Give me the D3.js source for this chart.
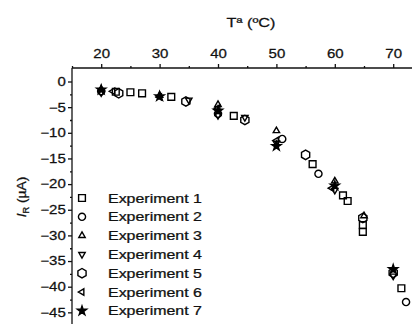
<!DOCTYPE html>
<html>
<head>
<meta charset="utf-8">
<script src="https://cdn.jsdelivr.net/npm/d3@7"></script>
<style>
  html, body { margin: 0; padding: 0; background: #fff; }
  svg { display: block; }
  text { font-family: "Liberation Sans", Arial, sans-serif; fill: #111; stroke: #111; stroke-width: 0.25; }
</style>
</head>
<body>
<svg id="chart" width="412" height="324"></svg>
<script>
// Temperature (°C) and reverse current (µA) per experiment
const exp1T = [22.5, 25, 27, 32, 42.7, 56.2, 61.4, 62.2, 64.8, 64.8, 71.4];
const exp1I = [-2.0, -2.1, -2.3, -3.0, -6.7, -16.1, -22.2, -23.3, -28.0, -29.3, -40.3];
const exp2T = [20, 40, 51, 57.2, 72.2];
const exp2I = [-1.9, -6.3, -11.2, -18.0, -43.0];
const exp3T = [20, 30, 40, 50, 60, 65];
const exp3I = [-1.5, -2.7, -4.5, -9.6, -19.4, -26.2];
const exp4T = [20, 35, 40, 44.6, 50, 60, 70];
const exp4I = [-2.2, -3.6, -6.6, -7.0, -12.0, -21.2, -37.9];
const exp5T = [23, 34.5, 44.6, 55, 64.8, 70];
const exp5I = [-2.3, -3.9, -7.5, -14.3, -26.6, -37.3];
const exp6T = [22, 30, 40, 50, 59.5];
const exp6I = [-1.9, -3.0, -5.2, -11.5, -20.8];
const exp7T = [20, 30, 40, 50, 60, 70];
const exp7I = [-1.6, -2.9, -5.7, -12.6, -20.3, -36.6];

const seriesNames = ["Experiment 1", "Experiment 2", "Experiment 3", "Experiment 4",
                     "Experiment 5", "Experiment 6", "Experiment 7"];
const xTickValues = [20, 30, 40, 50, 60, 70];
const yTickValues = [0, -5, -10, -15, -20, -25, -30, -35, -40, -45];

// marker shapes
const hexagon = {
  draw(ctx, size) {
    const r = Math.sqrt(size / 2.6);
    for (let i = 0; i < 6; i++) {
      const a = Math.PI / 6 + i * Math.PI / 3;
      const px = r * Math.cos(a), py = r * Math.sin(a);
      if (i === 0) ctx.moveTo(px, py); else ctx.lineTo(px, py);
    }
    ctx.closePath();
  }
};
const triangleDir = (angle) => ({
  draw(ctx, size) {
    const r = Math.sqrt(size / 1.3) * 0.62;
    for (let i = 0; i < 3; i++) {
      const a = angle + i * 2 * Math.PI / 3;
      const px = r * Math.cos(a), py = r * Math.sin(a);
      if (i === 0) ctx.moveTo(px, py); else ctx.lineTo(px, py);
    }
    ctx.closePath();
  }
});
const roundCircle = {
  draw(ctx, size) {
    const r = Math.sqrt(size / Math.PI);
    ctx.moveTo(r, 0);
    ctx.arc(0, 0, r, 0, 2 * Math.PI);
  }
};

const series = [
  { name: seriesNames[0], T: exp1T, I: exp1I, type: d3.symbolSquare, size: 46, fill: "none" },
  { name: seriesNames[1], T: exp2T, I: exp2I, type: roundCircle, size: 40, fill: "none" },
  { name: seriesNames[2], T: exp3T, I: exp3I, type: triangleDir(-Math.PI / 2), size: 46, fill: "none" },
  { name: seriesNames[3], T: exp4T, I: exp4I, type: triangleDir(Math.PI / 2), size: 46, fill: "none" },
  { name: seriesNames[4], T: exp5T, I: exp5I, type: hexagon, size: 58, fill: "none" },
  { name: seriesNames[5], T: exp6T, I: exp6I, type: triangleDir(Math.PI), size: 46, fill: "none" },
  { name: seriesNames[6], T: exp7T, I: exp7I, type: d3.symbolStar, size: 26, fill: "#000" }
];

const svg = d3.select("#chart");
const plotLeft = 72, plotTop = 68;
const stretch = "scale(1.25,1)";

const x = d3.scaleLinear().domain([15, 75]).range([plotLeft, plotLeft + 60 * 5.84]);
const y = d3.scaleLinear().domain([0, -45]).range([81.5, 81.5 + 45 * 5.13]);

// top axis
const xAxis = d3.axisTop(x).tickValues(xTickValues).tickSize(4).tickPadding(6)
  .tickFormat(d3.format("d"));
const gx = svg.append("g").attr("transform", `translate(0,${plotTop})`).call(xAxis);
gx.select(".domain").attr("d", `M${plotLeft},0H420`);
svg.append("g").attr("transform", `translate(0,${plotTop})`)
  .call(d3.axisTop(x).tickValues([15, 25, 35, 45, 55, 65, 75]).tickSize(2).tickFormat(""))
  .select(".domain").remove();

// left axis
const yAxis = d3.axisLeft(y).tickValues(yTickValues).tickSize(4).tickPadding(1)
  .tickFormat(d3.format("d"));
const gy = svg.append("g").attr("transform", `translate(${plotLeft},0)`).call(yAxis);
gy.select(".domain").attr("d", `M0,${plotTop}V330`);
const minorY = d3.range(0, -48, -2.5).filter(v => v % 5 !== 0);
svg.append("g").attr("transform", `translate(${plotLeft},0)`)
  .call(d3.axisLeft(y).tickValues(minorY).tickSize(2).tickFormat(""))
  .select(".domain").remove();

svg.selectAll(".tick text")
  .attr("font-size", 12)
  .attr("fill", "#111")
  .attr("transform", stretch)
  .style("font-family", '"Liberation Sans", Arial, sans-serif');
svg.selectAll(".domain, .tick line").attr("stroke", "#111").attr("stroke-width", 1.3);

// axis titles
svg.append("text").attr("transform", `translate(251,27) ${stretch}`)
  .attr("text-anchor", "middle").attr("font-size", 13).text("Tª (ºC)");
const yl = svg.append("text").attr("transform", "translate(26,197) rotate(-90) scale(1.15,1.1)")
  .attr("text-anchor", "middle").attr("font-size", 12);
yl.append("tspan").attr("font-style", "italic").text("I");
yl.append("tspan").attr("font-size", 8).attr("dy", 3).text("R");
yl.append("tspan").attr("dy", -3).text(" (µA)");

// data points
const plot = svg.append("g");
series.forEach(s => {
  const sym = d3.symbol().type(s.type).size(s.size);
  plot.append("g").selectAll("path")
    .data(s.T.map((t, i) => ({ t, v: s.I[i] })))
    .join("path")
    .attr("transform", d => `translate(${x(d.t)},${y(d.v)})`)
    .attr("d", sym)
    .attr("fill", s.fill)
    .attr("stroke", "#000")
    .attr("stroke-width", 1.4);
});

// legend
const legend = svg.append("g");
series.forEach((s, i) => {
  const ly = 198 + i * 18.8;
  legend.append("path")
    .attr("transform", `translate(82,${ly})`)
    .attr("d", d3.symbol().type(s.type).size(s.size)())
    .attr("fill", s.fill).attr("stroke", "#000").attr("stroke-width", 1.4);
  legend.append("text").attr("transform", `translate(108,${ly + 4.5}) scale(1.33,1)`)
    .attr("font-size", 12).text(s.name);
});
</script>
</body>
</html>
